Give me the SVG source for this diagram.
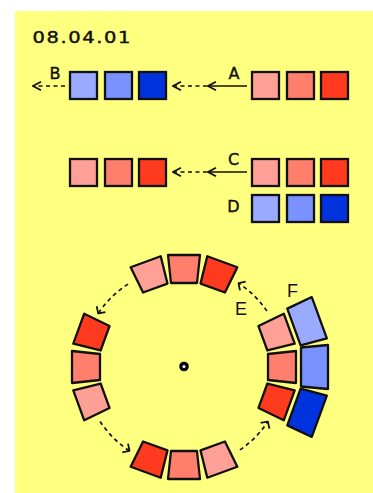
<svg xmlns="http://www.w3.org/2000/svg" width="373" height="493" viewBox="0 0 373 493">
<style>
.sq{stroke:#111;stroke-width:2.3}
.seg{stroke:#111;stroke-width:2.3;stroke-linejoin:round}
.pink{fill:#ffa096}
.salmon{fill:#ff7e6c}
.red{fill:#ff3a1e}
.b1{fill:#99aaff}
.b2{fill:#7a92ff}
.b3{fill:#0033dd}
.lbl{font-family:"DejaVu Sans","Liberation Sans",sans-serif;font-size:16px;fill:#111;stroke:#111;stroke-width:0.4;text-anchor:middle}
.lbl2{font-family:"Liberation Sans",Arial,sans-serif;font-size:18px;fill:#111;text-anchor:middle}
.solid{stroke:#111;stroke-width:1.7;fill:none}
.dash{stroke:#111;stroke-width:1.7;fill:none;stroke-dasharray:4 3.5}
</style>
<defs>
<marker id="ah" viewBox="-10 -6 11 12" markerWidth="11" markerHeight="12" refX="0" refY="0" orient="auto" markerUnits="userSpaceOnUse">
<path d="M-8,-4.3 L0,0 L-8,4.3" fill="none" stroke="#111" stroke-width="1.7"/>
</marker>
<marker id="ah2" viewBox="-8 -7 9 14" markerWidth="9" markerHeight="14" refX="0" refY="0" orient="auto" markerUnits="userSpaceOnUse">
<path d="M-5.2,-5.2 L0,0 L-5.2,5.2" fill="none" stroke="#111" stroke-width="1.8"/>
</marker>
<polygon id="rs" points="268,354 296,351 296,383 268,380"/>
<polygon id="bs" points="301,347.5 328,345 328,389 301,386.5"/>
</defs>
<rect x="15" y="11" width="358" height="482" fill="#ffff80"/>
<text transform="translate(32.5 42.7) scale(1.3 1)" font-family="DejaVu Sans,Liberation Sans,sans-serif" font-size="15" fill="#111" stroke="#111" stroke-width="0.4" textLength="75.4" lengthAdjust="spacing">08.04.01</text>

<g id="row-B">
<rect class="sq b1" x="70" y="72" width="27" height="27"/>
<rect class="sq b2" x="105" y="72" width="27" height="27"/>
<rect class="sq b3" x="139" y="72" width="27" height="27"/>
</g>
<g id="row-A">
<rect class="sq pink" x="252" y="72" width="27" height="27"/>
<rect class="sq salmon" x="287" y="72" width="27" height="27"/>
<rect class="sq red" x="321" y="72" width="27" height="27"/>
</g>
<g id="row-C-result">
<rect class="sq pink" x="70" y="159" width="27" height="27"/>
<rect class="sq salmon" x="105" y="159" width="27" height="27"/>
<rect class="sq red" x="139" y="159" width="27" height="27"/>
</g>
<g id="row-C">
<rect class="sq pink" x="252" y="159" width="27" height="27"/>
<rect class="sq salmon" x="287" y="159" width="27" height="27"/>
<rect class="sq red" x="321" y="159" width="27" height="27"/>
</g>
<g id="row-D">
<rect class="sq b1" x="252" y="195" width="27" height="27"/>
<rect class="sq b2" x="287" y="195" width="27" height="27"/>
<rect class="sq b3" x="321" y="195" width="27" height="27"/>
</g>

<g id="ring-inner">
<use href="#rs" class="seg pink" transform="rotate(-110 184 367)"/>
<use href="#rs" class="seg salmon" transform="rotate(-90 184 367)"/>
<use href="#rs" class="seg red" transform="rotate(-70 184 367)"/>
<use href="#rs" class="seg pink" transform="rotate(-20 184 367)"/>
<use href="#rs" class="seg salmon"/>
<use href="#rs" class="seg red" transform="rotate(20 184 367)"/>
<use href="#rs" class="seg pink" transform="rotate(70 184 367)"/>
<use href="#rs" class="seg salmon" transform="rotate(90 184 367)"/>
<use href="#rs" class="seg red" transform="rotate(110 184 367)"/>
<use href="#rs" class="seg pink" transform="rotate(160 184 367)"/>
<use href="#rs" class="seg salmon" transform="rotate(180 184 367)"/>
<use href="#rs" class="seg red" transform="rotate(200 184 367)"/>
</g>
<g id="ring-F">
<use href="#bs" class="seg b1" transform="rotate(-20 184 367)"/>
<use href="#bs" class="seg b2"/>
<use href="#bs" class="seg b3" transform="rotate(20 184 367)"/>
</g>
<g id="center">
<circle cx="184" cy="366.5" r="3.2" fill="#ffffff" stroke="#000" stroke-width="3.2"/>
</g>

<g id="connectors">
<line class="solid" x1="247" y1="86" x2="208" y2="86" marker-end="url(#ah)"/>
<line class="dash" x1="207" y1="86" x2="173" y2="86" marker-end="url(#ah)"/>
<line class="dash" x1="65" y1="86" x2="33" y2="86" marker-end="url(#ah)"/>
<line class="solid" x1="247" y1="172" x2="208" y2="172" marker-end="url(#ah)"/>
<line class="dash" x1="207" y1="172" x2="173" y2="172" marker-end="url(#ah)"/>
<path class="dash" d="M128.08,284.10 A100,100 0 0 0 98.2,313.5" marker-end="url(#ah2)"/>
<path class="dash" d="M266.90,311.08 A100,100 0 0 0 238.46,283.13" marker-end="url(#ah2)"/>
<path class="dash" d="M100.13,421.46 A100,100 0 0 0 129.54,450.87" marker-end="url(#ah2)"/>
<path class="dash" d="M239.92,449.90 A100,100 0 0 0 267.87,421.46" marker-end="url(#ah2)"/>
</g>

<text class="lbl" x="234" y="78.5">A</text>
<text class="lbl" x="55" y="78.5">B</text>
<text class="lbl" x="233.5" y="164.5">C</text>
<text class="lbl" x="233.5" y="212">D</text>
<text class="lbl2" x="241" y="315">E</text>
<text class="lbl2" x="292.5" y="297">F</text>
</svg>
